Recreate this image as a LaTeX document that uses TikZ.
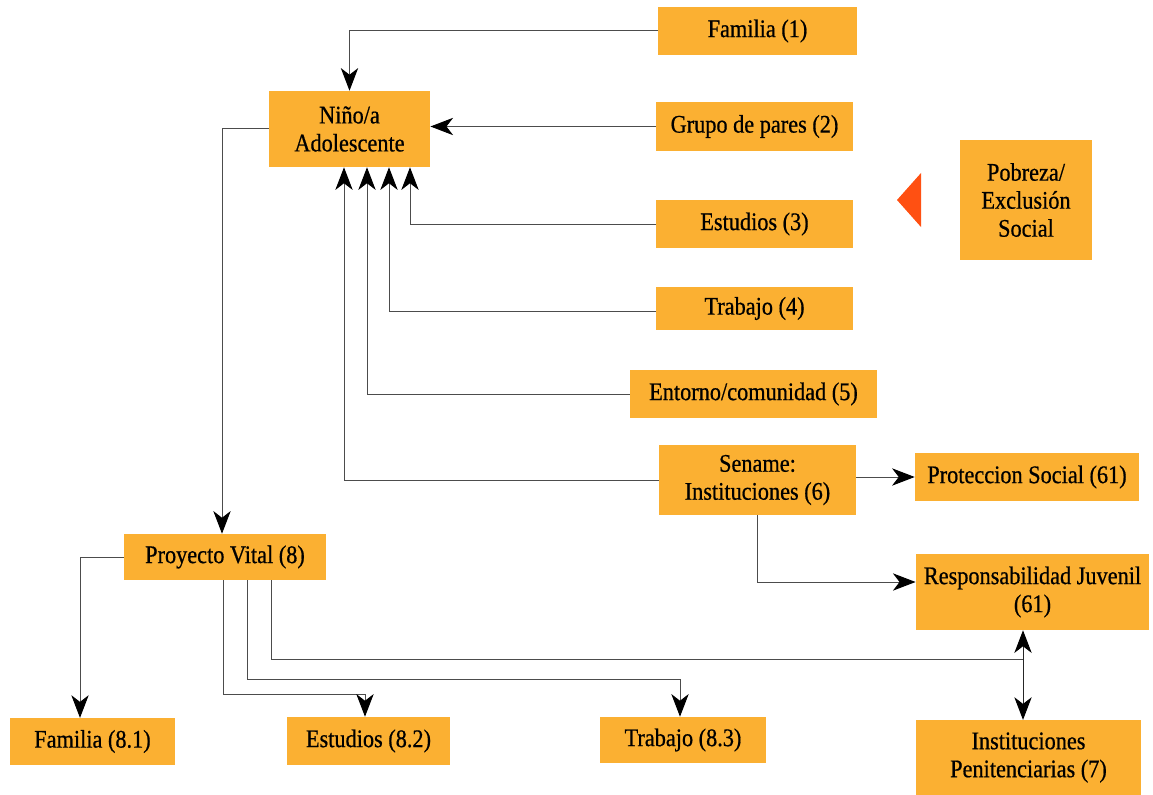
\documentclass[tikz,border=0pt]{standalone}
\usepackage{fontspec}
\setmainfont{Liberation Serif}[FakeStretch=0.88,FakeBold=0.6]
\usetikzlibrary{arrows.meta,positioning}
\definecolor{boxorange}{RGB}{251,176,50}
\definecolor{tipred}{RGB}{255,80,18}
\tikzset{
    box/.style={fill=boxorange,align=center,inner sep=1pt,minimum height=36pt,
        font=\fontsize{19}{21}\selectfont},
    link/.style={-{Stealth[length=17pt,width=13pt,inset=5pt,color=black]},draw=black!70,line width=0.75pt},
    bare/.style={draw=black!70,line width=0.75pt},
    both/.style={{Stealth[length=17pt,width=13pt,inset=5pt,color=black]}-{Stealth[length=17pt,width=13pt,inset=5pt,color=black]},draw=black!85,line width=0.75pt}
}

\begin{document}
\begin{tikzpicture}[x=0.75pt,y=-0.75pt]
    \useasboundingbox (0,0) rectangle (1153,795);

    % nodes
    \node[box,minimum width=149pt]                  (fam1)    at (757.5,31)   {Familia (1)};
    \node[box,minimum width=121pt,minimum height=57pt] (nino) at (349.5,129)  {Niño/a\\Adolescente};
    \node[box,minimum width=148pt,minimum height=37pt] (grupo) at (754.5,126.5) {Grupo de pares (2)};
    \node[box,minimum width=99pt,minimum height=90pt]  (pobreza) at (1026,200) {Pobreza/\\Exclusión\\Social};
    \node[box,minimum width=148pt]                  (est3)    at (754.5,224)  {Estudios (3)};
    \node[box,minimum width=148pt,minimum height=32pt] (trab4) at (754.5,308.5) {Trabajo (4)};
    \node[box,minimum width=185pt]                  (ent5)    at (753.5,394)  {Entorno/comunidad (5)};
    \node[box,minimum width=148pt,minimum height=52.5pt] (sename) at (757.5,480) {Sename:\\Instituciones (6)};
    \node[box,minimum width=168pt]                  (prot)    at (1027,477)   {Proteccion Social (61)};
    \node[box,minimum width=175pt,minimum height=57pt] (resp) at (1032.5,592) {Responsabilidad Juvenil\\(61)};
    \node[box,minimum width=151.5pt,minimum height=34.5pt] (pv) at (225,557)  {Proyecto Vital (8)};
    \node[box,minimum width=124pt,minimum height=35pt] (fam81) at (92.5,741.5) {Familia (8.1)};
    \node[box,minimum width=122pt]                  (est82)   at (368.5,741)  {Estudios (8.2)};
    \node[box,minimum width=124.5pt,minimum height=34.5pt] (trab83) at (683,740) {Trabajo (8.3)};
    \node[box,minimum width=169pt,minimum height=56pt] (pen)  at (1028.5,757.5) {Instituciones\\Penitenciarias (7)};

    \fill[tipred] (897,200) -- (921,173) -- (921,227) -- cycle;

    % towards the child
    \draw[link] (fam1.west) -| (nino.north);
    \draw[link] (grupo.west) -- (nino.east |- grupo.west);
    \draw[link] (est3.west) -| (410,0 |- nino.south);
    \draw[link] (trab4.west |- 0,311) -| (389,0 |- nino.south);
    \draw[link] (ent5.west) -| (367,0 |- nino.south);
    \draw[link] (sename.west) -| (344,0 |- nino.south);

    % sename
    \draw[link] (sename.east |- prot.west) -- (prot.west);
    \draw[link] (sename.south) |- (resp.west |- 0,582);

    % proyecto vital
    \draw[link] (nino.west) -| (222,0 |- pv.north);
    \draw[link] (pv.west) -| (80,0 |- fam81.north);
    \draw[link] (223,0 |- pv.south) |- (365,694) -- (365,0 |- est82.north);
    \draw[link] (247,0 |- pv.south) |- (680,679) -- (680,0 |- trab83.north);
    \coordinate (junc) at (1023,659);
    \draw[bare] (271,0 |- pv.south) |- (junc);
    \draw[both] (junc |- resp.south) -- (junc |- pen.north);
\end{tikzpicture}
\end{document}
